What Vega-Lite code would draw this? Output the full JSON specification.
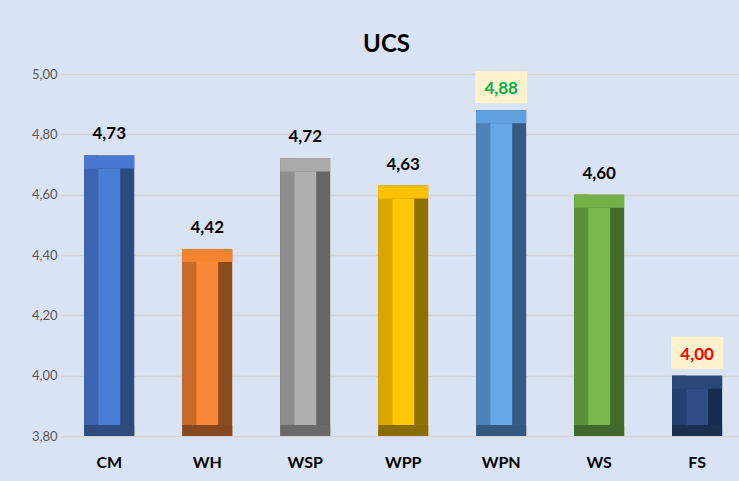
{
  "$schema": "https://vega.github.io/schema/vega-lite/v6.json",
  "width": 679,
  "height": 362,
  "autosize": {"type": "none"},
  "padding": {"left": 60, "top": 74, "right": 0, "bottom": 45},
  "background": "#DAE3F3",
  "config": {
    "view": {"stroke": null},
    "font": "Lato",
    "locale": {"number": {"decimal": ",", "thousands": ".", "grouping": [3], "currency": ["", "€"]}},
    "axisY": {"grid": true, "gridColor": "#D3D3D3", "gridWidth": 1.5, "domain": false, "ticks": false, "labelFontSize": 13, "labelColor": "#595959", "labelPadding": 3, "labelFont": "Lato"}
  },
  "title": {"text": "UCS", "fontSize": 24, "fontWeight": "bold", "color": "#000000", "offset": 11, "dx": -13, "font": "Lato"},
  "data": {
    "values": [
      {"cat": "CM", "ucs": 4.73},
      {"cat": "WH", "ucs": 4.42},
      {"cat": "WSP", "ucs": 4.72},
      {"cat": "WPP", "ucs": 4.63},
      {"cat": "WPN", "ucs": 4.88},
      {"cat": "WS", "ucs": 4.60},
      {"cat": "FS", "ucs": 4.00}
    ]
  },
  "encoding": {
    "x": {
      "field": "cat", "type": "nominal", "sort": null,
      "scale": {"paddingInner": 0.49, "paddingOuter": 0.21, "align": 0.59},
      "axis": {"title": null, "labelAngle": 0, "labelFontSize": 16, "labelFontWeight": "bold", "labelColor": "#000000", "ticks": false, "domain": false, "labelPadding": 18, "grid": false, "labelFont": "Lato"}
    }
  },
  "layer": [
    {
      "mark": {"type": "bar"},
      "encoding": {
        "y": {"field": "ucs", "type": "quantitative", "title": null, "scale": {"domain": [3.8, 5.0], "zero": false, "nice": false},
          "axis": {"values": [3.8, 4.0, 4.2, 4.4, 4.6, 4.8, 5.0], "format": ".2f"}},
        "y2": {"datum": 3.8},
        "color": {"field": "cat", "type": "nominal", "legend": null,
          "scale": {"domain": ["CM", "WH", "WSP", "WPP", "WPN", "WS", "FS"], "range": ["#2A4A80", "#8C4A1E", "#666666", "#8F7000", "#355B82", "#426A2B", "#172B4D"]}}
      }
    },
    {
      "mark": {"type": "bar", "width": 14, "xOffset": -18},
      "encoding": {
        "y": {"field": "ucs", "type": "quantitative", "title": null},
        "y2": {"datum": 3.8},
        "color": {"field": "cat", "type": "nominal", "legend": null,
          "scale": {"domain": ["CM", "WH", "WSP", "WPP", "WPN", "WS", "FS"], "range": ["#3A66B4", "#C9692A", "#8D8D8D", "#DDA500", "#4C82B8", "#5C913B", "#23406F"]}}
      }
    },
    {
      "mark": {"type": "bar", "y2Offset": 13},
      "encoding": {
        "y": {"field": "ucs", "type": "quantitative", "title": null},
        "y2": {"field": "ucs"},
        "color": {"field": "cat", "type": "nominal", "legend": null,
          "scale": {"domain": ["CM", "WH", "WSP", "WPP", "WPN", "WS", "FS"], "range": ["#4779D1", "#F6842F", "#AAAAAA", "#FFC200", "#5FA1DF", "#72B048", "#294979"]}}
      }
    },
    {
      "mark": {"type": "bar", "yOffset": -11},
      "encoding": {
        "y": {"datum": 3.8, "type": "quantitative", "title": null},
        "y2": {"datum": 3.8},
        "color": {"field": "cat", "type": "nominal", "legend": null,
          "scale": {"domain": ["CM", "WH", "WSP", "WPP", "WPN", "WS", "FS"], "range": ["#2E4C7E", "#86481F", "#6A6A6A", "#8A6C00", "#35587E", "#40682A", "#1A2E50"]}}
      }
    },
    {
      "mark": {"type": "bar", "width": 22, "yOffset": 13, "y2Offset": -11},
      "encoding": {
        "y": {"field": "ucs", "type": "quantitative", "title": null},
        "y2": {"datum": 3.8},
        "color": {"field": "cat", "type": "nominal", "legend": null,
          "scale": {"domain": ["CM", "WH", "WSP", "WPP", "WPN", "WS", "FS"], "range": ["#4A7ED4", "#F8873A", "#AFAFAF", "#FFC805", "#65A8E6", "#78B84C", "#2D4D84"]}}
      }
    },
    {
      "transform": [{"filter": "datum.cat === 'WPN' || datum.cat === 'FS'"}],
      "mark": {"type": "bar", "width": 52, "yOffset": -39, "y2Offset": -7, "color": "#FFF2CC"},
      "encoding": {
        "y": {"field": "ucs", "type": "quantitative", "title": null},
        "y2": {"field": "ucs"}
      }
    },
    {
      "mark": {"type": "text", "dy": -21, "baseline": "middle", "fontSize": 17, "fontWeight": "bold", "font": "Lato"},
      "encoding": {
        "y": {"field": "ucs", "type": "quantitative", "title": null},
        "text": {"field": "ucs", "type": "quantitative", "format": ".2f"},
        "color": {"field": "cat", "type": "nominal", "legend": null,
          "scale": {"domain": ["CM", "WH", "WSP", "WPP", "WPN", "WS", "FS"], "range": ["#000000", "#000000", "#000000", "#000000", "#00B050", "#000000", "#FF0000"]}}
      }
    }
  ],
  "resolve": {"scale": {"color": "independent"}}
}
